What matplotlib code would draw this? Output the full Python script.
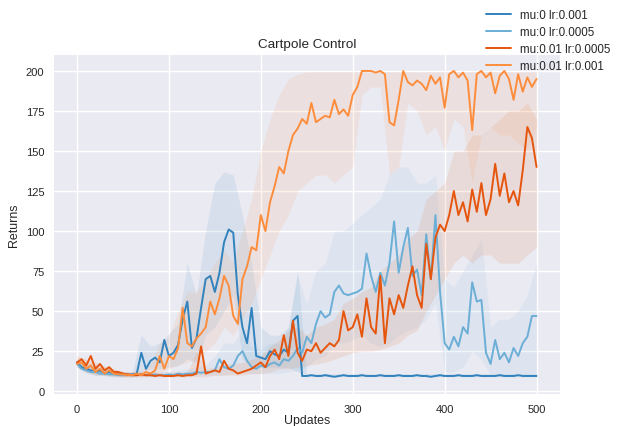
import numpy as np
import matplotlib
matplotlib.use("Agg")
import matplotlib.pyplot as plt

plt.style.use("seaborn-v0_8")
plt.rcParams["font.family"] = ["Liberation Sans", "DejaVu Sans"]

# mean returns, one value every 5 updates (0..500)
updates = np.arange(0, 501, 5)
mu0_lr001 = [18, 15, 14, 13, 12, 13, 11, 12, 11, 10.5,
             11, 10, 10.5, 11, 24, 14, 19, 21, 18, 32,
             22, 24, 29, 45, 56, 27, 33, 52, 70, 72,
             62, 74, 93, 101, 99, 60, 40, 30, 52, 22,
             21, 20, 25, 23, 22, 26, 24, 44, 47, 9.5,
             9.5, 10, 9.5, 9.5, 10, 9.5, 9, 9.5, 10, 9.5,
             9.5, 9.5, 10, 9.5, 9.5, 9.5, 10, 9.5, 9.5, 9.5,
             10, 9.5, 9.5, 9.5, 10, 9.5, 9.5, 9, 9.5, 10,
             9.5, 9.5, 9.5, 10, 9.5, 9.5, 9.5, 10, 9.5, 9.5,
             9.5, 9.5, 10, 9.5, 9.5, 9.5, 10, 9.5, 9.5, 9.5,
             9.5]
mu0_lr0005 = [17, 14, 13, 12, 12, 11, 11, 10.5, 10.5, 10,
              10, 10.5, 10, 10, 10.5, 10, 10, 10.5, 10, 10,
              10.5, 10, 11, 10.5, 11, 11, 12, 11.5, 12, 12,
              13, 20, 15, 14, 16, 22, 25, 19, 15, 14,
              16, 15, 17, 18, 16, 20, 19, 22, 27, 24,
              34, 30, 42, 50, 46, 48, 62, 66, 61, 60,
              61, 62, 64, 86, 72, 62, 74, 66, 80, 106,
              74, 90, 102, 72, 76, 60, 98, 70, 110, 62,
              30, 26, 34, 28, 40, 36, 68, 56, 57, 24,
              17, 32, 20, 24, 18, 27, 22, 30, 34, 47,
              47]
mu001_lr0005 = [18, 20, 16, 22, 14, 17, 13, 15, 12, 12,
                11, 10.5, 10, 10, 10.5, 10, 10, 9.5, 10, 9.5,
                9.5, 9.5, 10, 9.5, 10, 10, 11, 28, 11, 12,
                13, 12, 19, 14, 13, 11, 12, 13, 14, 16,
                18, 15, 22, 26, 20, 35, 22, 44, 24, 19,
                26, 25, 30, 24, 27, 30, 28, 32, 50, 38,
                40, 48, 34, 58, 40, 36, 72, 30, 58, 48,
                60, 52, 66, 78, 60, 52, 92, 70, 96, 104,
                100, 110, 125, 110, 118, 106, 126, 112, 130, 110,
                120, 142, 122, 136, 118, 125, 116, 138, 165, 158,
                140]
mu001_lr001 = [17, 18, 14, 16, 12, 14, 11, 13, 11, 10.5,
               10.5, 10, 10, 11, 10, 12, 11, 13, 22, 14,
               22, 20, 27, 52, 30, 28, 33, 36, 40, 56,
               48, 58, 72, 66, 47, 42, 70, 78, 90, 88,
               110, 100, 118, 128, 140, 136, 150, 160, 164, 170,
               167, 180, 168, 170, 172, 171, 182, 173, 176, 172,
               185, 190, 200, 200, 200, 199, 200, 198, 168, 166,
               182, 200, 193, 191, 194, 192, 188, 197, 192, 196,
               177, 198, 200, 196, 199, 194, 163, 198, 200, 196,
               199, 186, 197, 200, 195, 182, 198, 187, 196, 190,
               195]

# spread bands, one value every 10 updates
band_updates = np.arange(0, 501, 10)
mu0_lr001_lo = [15, 12, 10, 10, 9, 9, 9, 12, 14, 14,
                15, 16, 20, 18, 35, 40, 50, 60, 20, 15,
                15, 15, 15, 15, 12] + [9] * 26
mu0_lr001_hi = [20, 17, 15, 14, 13, 12, 12, 35, 28, 30,
                36, 42, 80, 60, 100, 130, 137, 135, 110, 80,
                40, 35, 35, 40, 75] + [11] * 26
mu0_lr0005_lo = [15, 11, 10, 9.5, 9, 9, 9, 9, 9, 9,
                 9, 9, 9, 10, 10, 10, 10, 11, 12, 11,
                 11, 11, 11, 12, 13, 15, 20, 22, 30, 30,
                 32, 35, 30, 28, 30, 35, 38, 40, 45, 55,
                 12, 12, 15, 25, 20, 10, 10, 10, 10, 10,
                 10]
mu0_lr0005_hi = [19, 15, 14, 13, 12, 12, 12, 12, 12, 12,
                 12, 13, 14, 15, 16, 22, 30, 30, 38, 28,
                 26, 30, 30, 40, 72, 55, 75, 80, 100, 100,
                 105, 110, 115, 120, 135, 140, 140, 130, 130, 135,
                 70, 65, 75, 85, 95, 40, 45, 45, 50, 60,
                 80]
mu001_lr0005_lo = [15, 12, 11, 10, 10, 9, 9, 9, 9, 9,
                   9, 9, 9, 9, 9, 10, 10, 10, 10, 11,
                   11, 12, 14, 14, 15, 16, 17, 18, 20, 22,
                   24, 25, 25, 26, 28, 30, 35, 38, 50, 60,
                   70, 80, 85, 80, 85, 85, 80, 80, 80, 85,
                   90]
mu001_lr0005_hi = [22, 20, 18, 16, 14, 12, 12, 12, 12, 12,
                   12, 12, 12, 25, 14, 15, 17, 17, 18, 20,
                   22, 28, 32, 38, 40, 35, 40, 42, 45, 55,
                   58, 62, 65, 75, 80, 85, 95, 100, 120, 125,
                   130, 150, 150, 160, 160, 165, 170, 175, 175, 180,
                   170]
mu001_lr001_lo = [15, 12, 10, 10, 9, 9, 9, 9, 10, 12,
                  14, 16, 18, 20, 25, 30, 40, 35, 45, 55,
                  70, 85, 100, 110, 125, 130, 135, 135, 130, 135,
                  140, 185, 190, 190, 135, 140, 180, 175, 160, 165,
                  150, 170, 165, 130, 160, 165, 160, 160, 155, 150,
                  165]
mu001_lr001_hi = [22, 19, 16, 15, 14, 12, 12, 13, 17, 30,
                  34, 50, 62, 62, 70, 80, 88, 80, 100, 120,
                  150, 170, 185, 195, 198] + [199.5] * 26

labels = ["mu:0 lr:0.001", "mu:0 lr:0.0005", "mu:0.01 lr:0.0005", "mu:0.01 lr:0.001"]
colors = ["#3182bd", "#6baed6", "#e6550d", "#fd8d3c"]
means = [mu0_lr001, mu0_lr0005, mu001_lr0005, mu001_lr001]
lows = [mu0_lr001_lo, mu0_lr0005_lo, mu001_lr0005_lo, mu001_lr001_lo]
highs = [mu0_lr001_hi, mu0_lr0005_hi, mu001_lr0005_hi, mu001_lr001_hi]

fig = plt.figure(figsize=(6.21, 4.27), dpi=100)
ax = fig.add_axes([0.087, 0.074, 0.814, 0.795])

for mean, lo, hi, c, lab in zip(means, lows, highs, colors, labels):
    ax.fill_between(band_updates, lo, hi, color=c, alpha=0.1, linewidth=0)
    ax.plot(updates, mean, color=c, linewidth=1.4, label=lab)

ax.set_xlim(-25, 525)
ax.set_ylim(-2, 210)
ax.set_xticks([0, 100, 200, 300, 400, 500])
ax.set_yticks(range(0, 201, 25))
ax.tick_params(labelsize=8, colors="0.15")
ax.set_title("Cartpole Control", fontsize=9.7)
ax.set_xlabel("Updates", fontsize=8.9, labelpad=0)
ax.set_ylabel("Returns", fontsize=8.9)

fig.legend(loc="upper right", fontsize=8.4, frameon=False,
           bbox_to_anchor=(1.0, 1.0), handlelength=2.1, labelspacing=0.42)

plt.savefig("out.png", dpi=100)
plt.close()
